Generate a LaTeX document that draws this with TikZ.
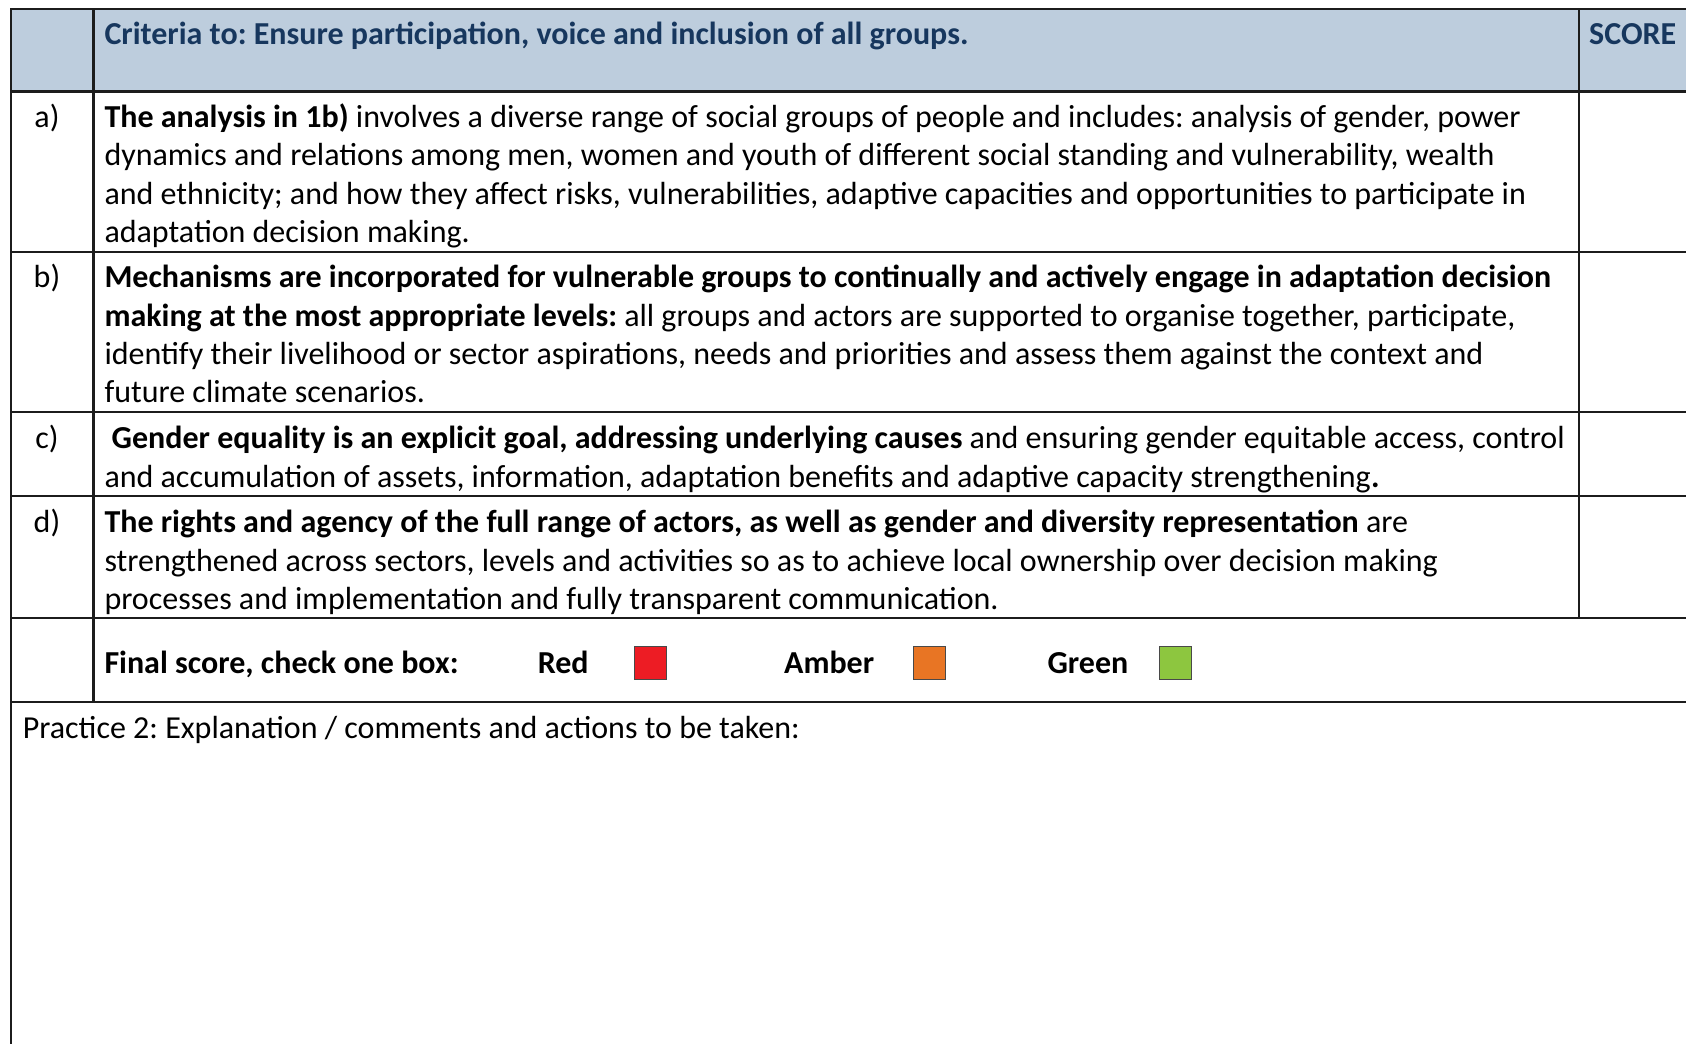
\documentclass[tikz,border=0pt]{standalone}
\usepackage{fontspec}
\setmainfont{Carlito}
\frenchspacing
\definecolor{headblue}{HTML}{BDCDDD}
\definecolor{headtext}{HTML}{17375E}
\definecolor{gridline}{HTML}{1C1C1C}
\definecolor{scorered}{HTML}{ED1C24}
\definecolor{scoreamber}{HTML}{E87524}
\definecolor{scoregreen}{HTML}{8DC63F}
\tikzset{
  cell/.style={anchor=north west, inner sep=0pt, align=left, font=\fontsize{32}{38.4}\selectfont},
  rowtag/.style={anchor=north, inner sep=0pt, font=\fontsize{32}{38.4}\selectfont},
  rule/.style={gridline, line width=2.6pt},
  tickbox/.style={draw=gridline!80, line width=1.2pt, minimum width=32pt, minimum height=33pt, inner sep=0pt}
}
\begin{document}
\begin{tikzpicture}[x=1pt, y=-1pt]
\useasboundingbox (0,0) rectangle (1686,1044);
\fill[headblue] (11,9) rectangle (1686,91.5);
% table rules
\draw[rule] (1686,9) -- (11,9) -- (11,1044);
\draw[rule] (93.5,9) -- (93.5,702);
\draw[rule] (1579,9) -- (1579,618);
\foreach \y in {91.5,252,412,496,618,702}
  \draw[rule] (11,\y) -- (1686,\y);
% header
\node[cell, text=headtext, font=\fontsize{32}{38.4}\selectfont\bfseries] (criteria) at (104.3,17.6)
  {\strut Criteria to: Ensure participation, voice and inclusion of all groups.};
\node[cell, text=headtext, font=\fontsize{32}{38.4}\selectfont\bfseries] (score) at (1589,17.6) {\strut SCORE};
% rows
\node[rowtag] (taga) at (47,100.3) {\strut a)};
\node[cell] (rowa) at (104.3,100.3)
  {\strut\textbf{The analysis in 1b)} involves a diverse range of social groups of people and includes: analysis of gender, power\\
   dynamics and relations among men, women and youth of different social standing and vulnerability, wealth\\
   and ethnicity; and how they affect risks, vulnerabilities, adaptive capacities and opportunities to participate in\\
   adaptation decision making.};
\node[rowtag] (tagb) at (47,260.6) {\strut b)};
\node[cell] (rowb) at (104.3,260.6)
  {\strut\textbf{Mechanisms are incorporated for vulnerable groups to continually and actively engage in adaptation decision}\\
   \textbf{making at the most appropriate levels:} all groups and actors are supported to organise together, participate,\\
   identify their livelihood or sector aspirations, needs and priorities and assess them against the context and\\
   future climate scenarios.};
\node[rowtag] (tagc) at (47,421.6) {\strut c)};
\node[cell] (rowc) at (104.3,421.6)
  {\strut\ \textbf{Gender equality is an explicit goal, addressing underlying causes} and ensuring gender equitable access, control\\
   and accumulation of assets, information, adaptation benefits and adaptive capacity strengthening\textbf{.}};
\node[rowtag] (tagd) at (47,505.6) {\strut d)};
\node[cell] (rowd) at (104.3,505.6)
  {\strut\textbf{The rights and agency of the full range of actors, as well as gender and diversity representation} are\\
   strengthened across sectors, levels and activities so as to achieve local ownership over decision making\\
   processes and implementation and fully transparent communication.};
% final score
\node[cell, font=\fontsize{32}{38.4}\selectfont\bfseries] (final) at (104.3,646.6) {\strut Final score, check one box:};
\node[cell, font=\fontsize{32}{38.4}\selectfont\bfseries] (red) at (537.6,646.6) {\strut Red};
\node[tickbox, fill=scorered] (redbox) at (650.5,663) {};
\node[cell, font=\fontsize{32}{38.4}\selectfont\bfseries] (amber) at (783.9,646.6) {\strut Amber};
\node[tickbox, fill=scoreamber] (amberbox) at (929.5,663) {};
\node[cell, font=\fontsize{32}{38.4}\selectfont\bfseries] (green) at (1047.3,646.6) {\strut Green};
\node[tickbox, fill=scoregreen] (greenbox) at (1175.7,663) {};
% comments
\node[cell] (practice) at (22.6,711.1) {\strut Practice 2: Explanation / comments and actions to be taken:};
\end{tikzpicture}
\end{document}
